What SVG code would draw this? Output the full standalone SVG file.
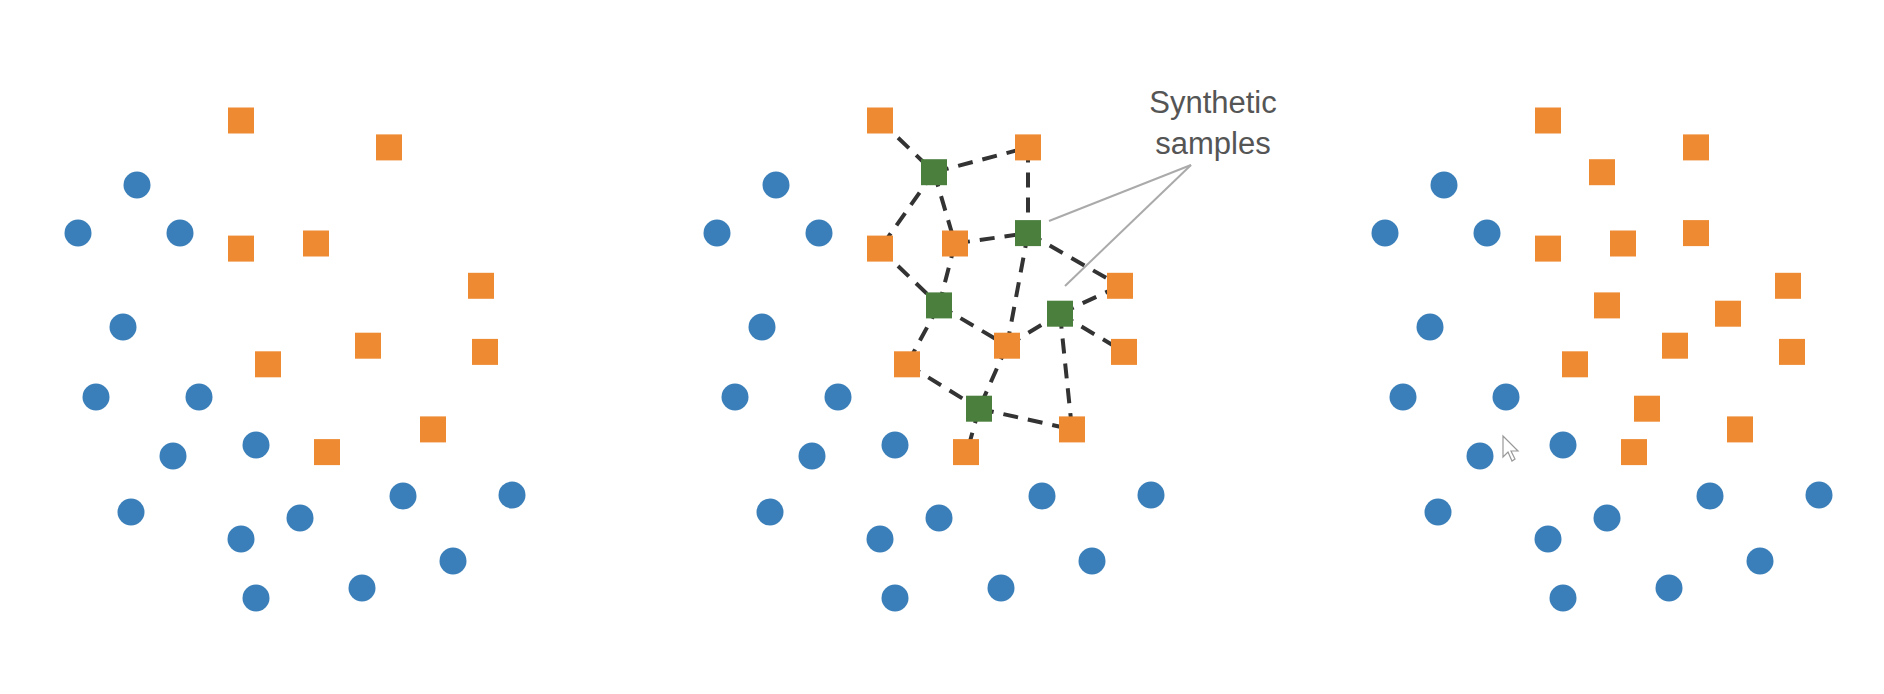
<svg xmlns="http://www.w3.org/2000/svg" width="1884" height="694" viewBox="0 0 1884 694">
<style>
.b{fill:#3a7fb9}
.o{fill:#ee8a32}
.g{fill:#4a7f3e}
.d{stroke:#333;stroke-width:4;stroke-dasharray:15 10;fill:none}
.a{stroke:#aaa;stroke-width:2;fill:none}
.t{font-family:"Liberation Sans",Arial,sans-serif;font-size:31px;fill:#555;text-anchor:middle}
</style>
<defs>
<circle id="c" r="13.5"/>
<rect id="s" x="-13" y="-13" width="26" height="26"/>
<g id="blues">
<use href="#c" x="137" y="185"/><use href="#c" x="78" y="233"/><use href="#c" x="180" y="233"/>
<use href="#c" x="123" y="327"/><use href="#c" x="96" y="397"/><use href="#c" x="199" y="397"/>
<use href="#c" x="256" y="445"/><use href="#c" x="173" y="456"/><use href="#c" x="131" y="512"/>
<use href="#c" x="403" y="496"/><use href="#c" x="512" y="495"/><use href="#c" x="300" y="518"/>
<use href="#c" x="241" y="539"/><use href="#c" x="453" y="561"/><use href="#c" x="362" y="588"/>
<use href="#c" x="256" y="598"/>
</g>
<g id="oranges">
<use href="#s" x="241" y="120.5"/><use href="#s" x="389" y="147.4"/><use href="#s" x="241" y="248.6"/>
<use href="#s" x="316" y="243.5"/><use href="#s" x="481" y="285.8"/><use href="#s" x="368" y="345.7"/>
<use href="#s" x="485" y="351.9"/><use href="#s" x="268" y="364.3"/><use href="#s" x="433" y="429.4"/>
<use href="#s" x="327" y="452.1"/>
</g>
<g id="synth">
<use href="#s" x="295" y="172.2"/><use href="#s" x="389" y="233.1"/><use href="#s" x="300" y="305.4"/>
<use href="#s" x="421" y="313.7"/><use href="#s" x="340" y="408.7"/>
</g>
</defs>
<rect width="1884" height="694" fill="#fff"/>

<g id="panel-original">
<use href="#blues" class="b"/>
<use href="#oranges" class="o"/>
</g>

<g id="connectors">
<g class="d">
<line x1="880" y1="120.5" x2="934" y2="172.2"/>
<line x1="934" y1="172.2" x2="1028" y2="147.4"/>
<line x1="1028" y1="147.4" x2="1028" y2="233.1"/>
<line x1="934" y1="172.2" x2="880" y2="248.6"/>
<line x1="934" y1="172.2" x2="955" y2="243.5"/>
<line x1="955" y1="243.5" x2="1028" y2="233.1"/>
<line x1="1028" y1="233.1" x2="1120" y2="285.8"/>
<line x1="1028" y1="233.1" x2="1007" y2="345.7"/>
<line x1="880" y1="248.6" x2="939" y2="305.4"/>
<line x1="955" y1="243.5" x2="939" y2="305.4"/>
<line x1="939" y1="305.4" x2="1007" y2="345.7"/>
<line x1="939" y1="305.4" x2="907" y2="364.3"/>
<line x1="907" y1="364.3" x2="979" y2="408.7"/>
<line x1="1007" y1="345.7" x2="1060" y2="313.7"/>
<line x1="1060" y1="313.7" x2="1120" y2="285.8"/>
<line x1="1060" y1="313.7" x2="1124" y2="351.9"/>
<line x1="1060" y1="313.7" x2="1072" y2="429.4"/>
<line x1="1007" y1="345.7" x2="979" y2="408.7"/>
<line x1="979" y1="408.7" x2="967" y2="452.1"/>
<line x1="979" y1="408.7" x2="1072" y2="429.4"/>
</g>
<g class="a">
<line x1="1191" y1="165" x2="1049" y2="221"/>
<line x1="1191" y1="165" x2="1065" y2="286"/>
</g>
</g>

<g id="panel-smote" transform="translate(639,0)">
<use href="#blues" class="b"/>
<use href="#oranges" class="o"/>
<use href="#synth" class="g"/>
</g>

<g id="label">
<text class="t" x="1213" y="113">Synthetic</text>
<text class="t" x="1213" y="154">samples</text>
</g>

<g id="panel-result" transform="translate(1307,0)">
<use href="#blues" class="b"/>
<use href="#oranges" class="o"/>
<use href="#synth" class="o"/>
</g>

<g id="cursor">
<path d="M1503,436 L1503,457 L1508,452 L1512,461 L1515,459 L1511,451 L1518,451 Z" fill="#fff" stroke="#999" stroke-width="1.2"/>
</g>
</svg>
